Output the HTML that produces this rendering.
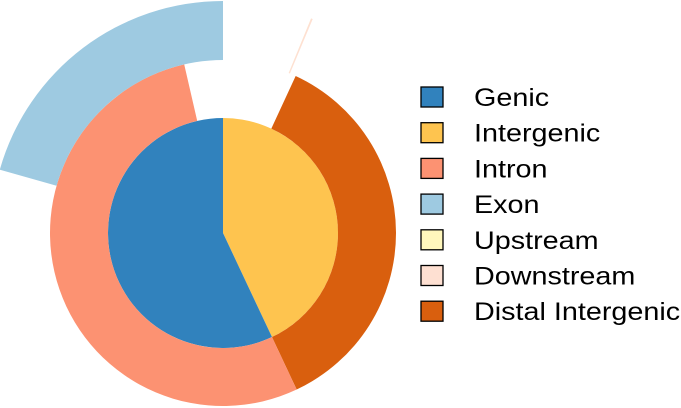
<!DOCTYPE html>
<html><head><meta charset="utf-8"><style>
body{margin:0;background:#fff;font-family:"Liberation Sans",sans-serif}
svg{display:block}
</style></head><body>
<svg id="c" width="681" height="408"></svg>
<script>
// data in percent of full circle (clockwise from 12 o'clock)
const innerNames = ["Intergenic","Genic"];
const innerValues = [43, 57];
const ringNames = ["Distal Intergenic","Intron"];
const ringStarts = [6.9, 43];
const ringValues = [36.1, 53.4];
const outerNames = ["Upstream","Downstream","Exon"];
const outerStarts = [6.2, 6.2, 79.4];
const outerValues = [0.02, 0.12, 20.6];
const legendNames = ["Genic","Intergenic","Intron","Exon","Upstream","Downstream","Distal Intergenic"];
const colors = {"Genic":"#3182bd","Intergenic":"#fec44f","Intron":"#fc9272","Exon":"#9ecae1","Upstream":"#fff7bc","Downstream":"#fee0d2","Distal Intergenic":"#d95f0e"};

const NS="http://www.w3.org/2000/svg";
const svg=document.getElementById('c');
const cx=223, cy=233;
function ang(p){return p/100*2*Math.PI;}
function pt(r,p){const a=ang(p);return [cx+r*Math.sin(a), cy-r*Math.cos(a)];}
function arc(r0,r1,s,v){
  const e=s+v, large=v>50?1:0;
  const [x1,y1]=pt(r1,s),[x2,y2]=pt(r1,e);
  if(r0===0) return `M${cx},${cy}L${x1},${y1}A${r1},${r1} 0 ${large} 1 ${x2},${y2}Z`;
  const [x3,y3]=pt(r0,e),[x4,y4]=pt(r0,s);
  return `M${x1},${y1}A${r1},${r1} 0 ${large} 1 ${x2},${y2}L${x3},${y3}A${r0},${r0} 0 ${large} 0 ${x4},${y4}Z`;
}
function seg(d,fill,name){
  const p=document.createElementNS(NS,'path');
  p.setAttribute('d',d);p.setAttribute('fill',fill);
  
  
  svg.appendChild(p);
}
let acc=0;
innerValues.forEach((v,i)=>{seg(arc(0,115,acc,v),colors[innerNames[i]],'slice-'+innerNames[i].toLowerCase().replace(/ /g,'-'));acc+=v;});
ringValues.forEach((v,i)=>{seg(arc(115,173,ringStarts[i],v),colors[ringNames[i]],'ring-'+ringNames[i].toLowerCase().replace(/ /g,'-'));});
outerValues.forEach((v,i)=>{seg(arc(173,232,outerStarts[i],v),colors[outerNames[i]],'outer-'+outerNames[i].toLowerCase().replace(/ /g,'-'));});

legendNames.forEach((n,i)=>{
  const y=97+i*35.7;
  const r=document.createElementNS(NS,'rect');
  r.setAttribute('x',421);r.setAttribute('y',y-10);r.setAttribute('width',22);r.setAttribute('height',20);
  r.setAttribute('fill',colors[n]);r.setAttribute('stroke','#000');r.setAttribute('stroke-width',1.3);
  
  
  svg.appendChild(r);
  const t=document.createElementNS(NS,'text');
  t.setAttribute('transform',`translate(474,${y+9}) scale(1.15,1)`);
  t.setAttribute('font-size',25);
  t.setAttribute('font-family','"Liberation Sans",sans-serif');
  t.textContent=n;
  
  
  svg.appendChild(t);
});
</script>
</body></html>
